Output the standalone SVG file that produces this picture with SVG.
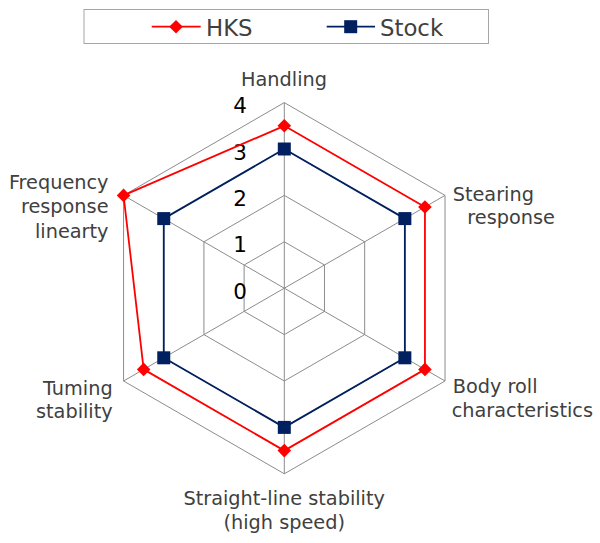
<svg xmlns="http://www.w3.org/2000/svg" xmlns:xlink="http://www.w3.org/1999/xlink" width="600" height="543" viewBox="0 0 600 543">
<style>
text{font-family:"DejaVu Sans","Liberation Sans",sans-serif;}
.lbl{font-size:19.3px;fill:#404040;}
.tick{font-size:21.5px;fill:#000;text-anchor:middle;}
.leg{font-size:22.8px;fill:#404040;}
.grid{fill:none;stroke:#8c8c8c;stroke-width:1;}
.hks{fill:none;stroke:#ff0000;stroke-width:1.8;stroke-linejoin:round;}
.stk{fill:none;stroke:#002060;stroke-width:1.8;stroke-linejoin:round;}
</style>
<defs>
<path id="dia" d="M0,-6.8 L6.8,0 L0,6.8 L-6.8,0Z" fill="#ff0000"/>
<rect id="sq" x="-6.5" y="-6.5" width="13" height="13" fill="#002060"/>
</defs>
<rect width="600" height="543" fill="#fff"/>
<g id="legend">
<rect x="84" y="9.5" width="404.5" height="34" fill="#fff" stroke="#a6a6a6" stroke-width="1"/>
<line x1="151.7" y1="26.7" x2="200.7" y2="26.7" stroke="#ff0000" stroke-width="1.8"/>
<use xlink:href="#dia" x="176" y="26.7"/>
<text class="leg" x="206" y="36">HKS</text>
<line x1="326.7" y1="26.7" x2="375" y2="26.7" stroke="#002060" stroke-width="1.8"/>
<use xlink:href="#sq" x="350.7" y="26.7"/>
<text class="leg" x="380" y="36">Stock</text>
</g>
<g id="grid">
<polygon class="grid" points="284.3,241.8 324.48,265 324.48,311.4 284.3,334.6 244.12,311.4 244.12,265"/>
<polygon class="grid" points="284.3,195.4 364.67,241.8 364.67,334.6 284.3,381 203.93,334.6 203.93,241.8"/>
<polygon class="grid" points="284.3,149 404.85,218.6 404.85,357.8 284.3,427.4 163.75,357.8 163.75,218.6"/>
<polygon class="grid" points="284.3,102.6 445.03,195.4 445.03,381 284.3,473.8 123.57,381 123.57,195.4"/>
<g class="grid">
<line x1="284.3" y1="288.2" x2="284.3" y2="102.6"/>
<line x1="284.3" y1="288.2" x2="445.03" y2="195.4"/>
<line x1="284.3" y1="288.2" x2="445.03" y2="381"/>
<line x1="284.3" y1="288.2" x2="284.3" y2="473.8"/>
<line x1="284.3" y1="288.2" x2="123.57" y2="381"/>
<line x1="284.3" y1="288.2" x2="123.57" y2="195.4"/>
</g>
</g>
<g id="ticks">
<text class="tick" x="240" y="113">4</text>
<text class="tick" x="240" y="159.5">3</text>
<text class="tick" x="240" y="206">2</text>
<text class="tick" x="240" y="252.4">1</text>
<text class="tick" x="240" y="298.8">0</text>
</g>
<g id="series-stock">
<polygon class="stk" points="284.3,149 404.85,218.6 404.85,357.8 284.3,427.4 163.75,357.8 163.75,218.6"/>
<use xlink:href="#sq" x="284.3" y="149"/>
<use xlink:href="#sq" x="404.85" y="218.6"/>
<use xlink:href="#sq" x="404.85" y="357.8"/>
<use xlink:href="#sq" x="284.3" y="427.4"/>
<use xlink:href="#sq" x="163.75" y="357.8"/>
<use xlink:href="#sq" x="163.75" y="218.6"/>
</g>
<g id="series-hks">
<polygon class="hks" points="284.3,125.8 424.94,207 424.94,369.4 284.3,450.6 143.66,369.4 123.57,195.4"/>
<use xlink:href="#dia" x="284.3" y="125.8"/>
<use xlink:href="#dia" x="424.94" y="207"/>
<use xlink:href="#dia" x="424.94" y="369.4"/>
<use xlink:href="#dia" x="284.3" y="450.6"/>
<use xlink:href="#dia" x="143.66" y="369.4"/>
<use xlink:href="#dia" x="123.57" y="195.4"/>
</g>
<g id="labels">
<text class="lbl" x="284" y="86" text-anchor="middle">Handling</text>
<text class="lbl" x="452.7" y="200.7">Stearing</text>
<text class="lbl" x="467.3" y="224.2">response</text>
<text class="lbl" x="452.7" y="393.3">Body roll</text>
<text class="lbl" x="451.7" y="416.8">characteristics</text>
<text class="lbl" x="284.2" y="505" text-anchor="middle">Straight-line stability</text>
<text class="lbl" x="284.2" y="529" text-anchor="middle">(high speed)</text>
<text class="lbl" x="112.7" y="395" text-anchor="end">Tuming</text>
<text class="lbl" x="112.7" y="418.3" text-anchor="end">stability</text>
<text class="lbl" x="108.5" y="188.5" text-anchor="end">Frequency</text>
<text class="lbl" x="108.5" y="213" text-anchor="end">response</text>
<text class="lbl" x="108.5" y="237.5" text-anchor="end">linearty</text>
</g>
</svg>
